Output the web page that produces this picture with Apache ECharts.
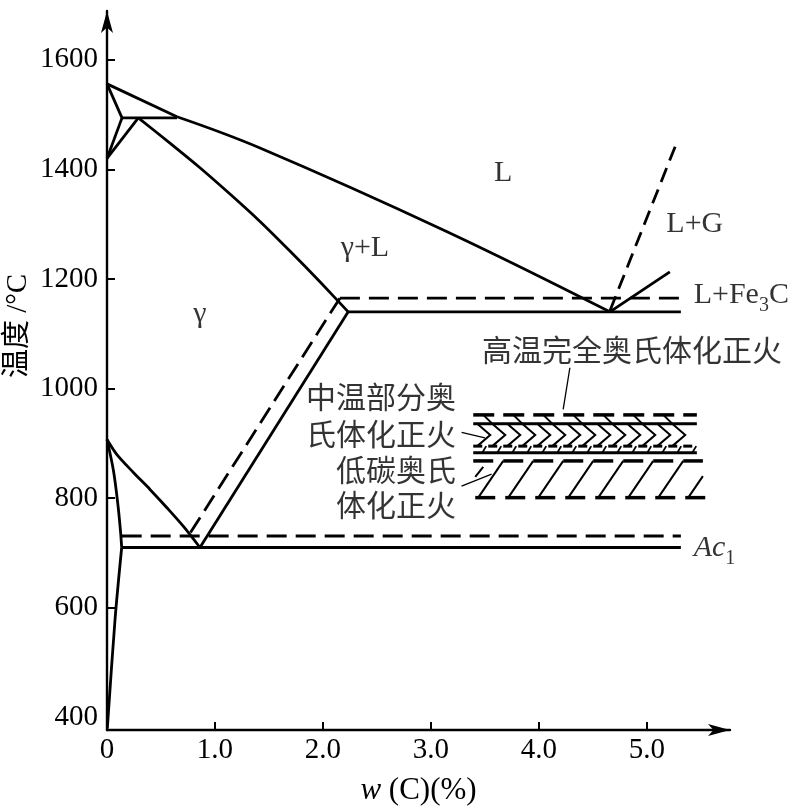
<!DOCTYPE html>
<html><head><meta charset="utf-8">
<script src="https://cdn.jsdelivr.net/npm/echarts@6/dist/echarts.min.js"></script>
<style>html,body{margin:0;padding:0;background:#fff}#c{width:792px;height:811px}</style>
</head><body><div id="c"></div>
<script>
const SERIF = "'Liberation Serif','Noto Sans CJK SC',serif";
const CJK = "'Noto Sans CJK SC','Liberation Serif',sans-serif";

// axis ticks / labels
const yLabelValues = [400, 600, 800, 1000, 1200, 1400, 1600];
const yTickValues = [600, 800, 1000, 1200, 1400, 1600];
const xLabelValues = [0, 1, 2, 3, 4, 5];
const xTickValues = [1, 2, 3, 4, 5];

// phase-diagram curves: [w(C) %, temperature °C]
const liquidusAB = [[0,1556],[0.648,1496]];
const liquidusBC = [[0.648,1496],[1.417,1439],[3.13,1288],[4.657,1140]];
const deltaAH = [[0,1556],[0.139,1494]];
const deltaHN = [[0.139,1494],[0,1420]];
const deltaNJ = [[0,1420],[0.29,1494]];
const peritecticHB = [[0.139,1494],[0.648,1494]];
const solidusJE = [[0.29,1494],[0.583,1448],[0.861,1403],[1.139,1355],[1.417,1305],[1.694,1251],[1.972,1195],[2.234,1140]];
const eutecticECF = [[2.234,1140],[5.315,1140]];
const eutecticGraphite = [[2.157,1165],[5.315,1165]];
const acmES = [[2.234,1140],[0.861,710]];
const acmGraphite = [[2.157,1165],[0.753,731]];
const a1Line = [[0.136,710],[5.315,710]];
const ac1Line = [[0.136,731],[5.315,731]];
const a3GS = [[0,907],[0.09,880],[0.244,847],[0.398,816],[0.553,783],[0.706,749],[0.861,710]];
const curveGP = [[0,907],[0.06,850],[0.1,790],[0.125,740],[0.136,710]];
const curvePQ = [[0.136,710],[0.075,580],[0.003,380]];
const liquidusCD = [[4.657,1140],[5.213,1213]];
const liquidusGraphite = [[4.66,1143],[5.275,1448]];

// normalizing temperature bands
const bandXStart = [3.392, 3.392, 3.392, 3.392];
const bandXEnd = [5.463, 5.463, 5.463, 5.556];
const bandTop = [952, 936, 895, 868];
const bandBottom = [936, 895, 883, 801];
const bandKind = ['back', 'chevron', 'fine', 'zig'];
const bandLine936 = [[3.392,936],[5.463,936]];
const bandLine883 = [[3.392,883],[5.463,883]];

// leader lines
const leaderHigh = [[4.287,1038],[4.225,962]];
const leaderMid = [[3.284,920],[3.5,910]];
const leaderLow = [[3.284,822],[3.562,844]];

// annotation texts and anchors
const annText = ['L', 'γ+L', 'L+G', 'L+Fe{s|3}C', 'γ', '{i|Ac}{s|1}',
  '高温完全奥氏体化正火', '中温部分奥', '氏体化正火', '低碳奥氏', '体化正火'];
const annAt = [[3.67,1393],[2.389,1256],[5.444,1300],[5.429,1171],[0.861,1135],[5.429,709],
  [3.469,1071],[3.238,986],[3.238,918],[3.238,853],[3.238,789]];
const annPos = ['inside','inside','inside','right','inside','right','right','left','left','left','left'];

function ln(data, type, width, smooth) {
  return {
    type: 'line', data: data, symbol: 'none', silent: true, animation: false,
    smooth: smooth || false,
    lineStyle: { color: '#000', width: width || 2.8, type: type || 'solid', cap: 'butt' }
  };
}

function renderBand(params, api) {
  const kind = bandKind[params.dataIndex];
  const a = api.coord([api.value(0), api.value(2)]);
  const b = api.coord([api.value(1), api.value(3)]);
  const x0 = a[0], x1 = b[0], yt = a[1], yb = b[1];
  const ch = [];
  const seg = (p, q, w) => ch.push({ type: 'line', shape: { x1: p[0], y1: p[1], x2: q[0], y2: q[1] }, style: { stroke: '#000', lineWidth: w } });
  if (kind === 'back') {
    for (let s = x0; s < x1 - 2; s += 30) {
      seg([s, yt], [Math.min(s + 21, x1), yt], 3.5);
      if (s + 19 <= x1) seg([s + 10, yt], [s + 19, yb], 2);
    }
  } else if (kind === 'chevron') {
    const ym = (yt + yb) / 2;
    for (let s = x0 + 4; s + 13 <= x1; s += 15) {
      ch.push({ type: 'polyline', shape: { points: [[s, yt], [s + 13, ym], [s, yb]] }, style: { stroke: '#000', lineWidth: 2, fill: 'none' } });
    }
  } else if (kind === 'fine') {
    for (let s = x0; s < x1 - 2; s += 15) {
      seg([s, yt], [Math.min(s + 9, x1), yt], 3);
      if (s + 13 <= x1) seg([s + 9, yb], [s + 13, yt], 1.8);
    }
  } else {
    for (let s = x0; s < x1 - 6; s += 30) seg([s, yt], [Math.min(s + 20, x1 - 4), yt], 3.5);
    const dx = 25;
    seg([x0 + 10, yt + 6], [x0 + 2, yt + 16], 2);
    for (let s = x0 + 30; s - 28 < x1; s += 30) {
      let p = [s, yt], q = [s - dx, yb];
      const lim = x1 - 4;
      if (p[0] > lim) { const t = (p[0] - lim) / dx; p = [lim, yt + t * (yb - yt)]; }
      if (p[0] > q[0]) seg(p, q, 2);
      seg([s - 28, yb], [Math.min(s - 8, x1), yb], 3.5);
    }
  }
  return { type: 'group', children: ch };
}

const richSub = {
  s: { fontSize: 20, fontFamily: SERIF, color: '#000', verticalAlign: 'top', lineHeight: 20, padding: [16, 0, 0, 0] },
  i: { fontSize: 30, fontFamily: SERIF, fontStyle: 'italic', color: '#000' }
};

const annData = annText.map((t, k) => {
  const isCJK = /[\u4e00-\u9fff]/.test(t);
  return {
    value: annAt[k],
    label: {
      show: true, position: annPos[k], distance: 0,
      formatter: t,
      fontSize: 30,
      fontFamily: isCJK ? CJK : SERIF,
      color: '#000',
      rich: richSub
    }
  };
});

const chart = echarts.init(document.getElementById('c'), null, { renderer: 'canvas' });
chart.setOption({
  backgroundColor: '#fff',
  animation: false,
  grid: { left: 107, right: 62, top: 11, bottom: 80, containLabel: false },
  xAxis: {
    type: 'value', min: 0, max: 5.77,
    name: '{i|w} (C)(%)', nameLocation: 'middle', nameGap: 45,
    nameTextStyle: { fontSize: 31, fontFamily: SERIF, color: '#000', rich: { i: { fontSize: 31, fontFamily: SERIF, fontStyle: 'italic', color: '#000' } } },
    axisLine: { show: true, onZero: false, symbol: ['none', 'arrow'], symbolSize: [9, 22], lineStyle: { color: '#000', width: 2.4 } },
    axisTick: { show: true, inside: true, length: 8, customValues: xTickValues, lineStyle: { color: '#000', width: 2 } },
    axisLabel: { show: true, margin: 6, customValues: xLabelValues, fontSize: 29, fontFamily: SERIF, color: '#000',
      formatter: v => (v === 0 ? '0' : v.toFixed(1)) },
    splitLine: { show: false }
  },
  yAxis: {
    type: 'value', min: 377, max: 1689,
    axisLine: { show: true, onZero: false, symbol: ['none', 'arrow'], symbolSize: [9, 22], lineStyle: { color: '#000', width: 2.4 } },
    axisTick: { show: true, inside: true, length: 8, customValues: yTickValues, lineStyle: { color: '#000', width: 2 } },
    axisLabel: { show: true, margin: 9, customValues: yLabelValues, fontSize: 29, fontFamily: SERIF, color: '#000',
      formatter: v => String(v) },
    splitLine: { show: false }
  },
  graphic: [{
    type: 'text', x: 18, y: 326, rotation: Math.PI / 2,
    style: { text: '温度 /°C', font: "29px 'Liberation Serif','Noto Sans CJK SC',serif", fill: '#000', align: 'center', verticalAlign: 'middle' }
  }],
  series: [
    ln(liquidusAB), ln(liquidusBC, 'solid', 2.8, 0.4), ln(deltaAH), ln(deltaHN), ln(deltaNJ), ln(peritecticHB), ln(solidusJE, 'solid', 2.8, 0.2),
    ln(eutecticECF), ln(eutecticGraphite, [20, 9]),
    ln(acmES), ln(acmGraphite, [18, 8]),
    ln(a1Line), ln(ac1Line, [20, 9]),
    ln(a3GS, 'solid', 2.8, 0.3), ln(curveGP, 'solid', 2.8, 0.3), ln(curvePQ, 'solid', 2.8, 0.3),
    ln(liquidusCD), ln(liquidusGraphite, [15, 8], 2.8),
    ln(bandLine936, 'solid', 3), ln(bandLine883, 'solid', 3),
    ln(leaderHigh, 'solid', 1.3), ln(leaderMid, 'solid', 1.3), ln(leaderLow, 'solid', 1.3),
    {
      type: 'custom', renderItem: renderBand, silent: true, animation: false,
      encode: { x: [0, 1], y: [2, 3] },
      data: bandTop.map((t, k) => [bandXStart[k], bandXEnd[k], t, bandBottom[k]])
    },
    {
      type: 'scatter', data: annData, symbol: 'circle', symbolSize: 1, silent: true, animation: false,
      itemStyle: { color: 'rgba(0,0,0,0)' }
    }
  ]
});
</script>
</body></html>
